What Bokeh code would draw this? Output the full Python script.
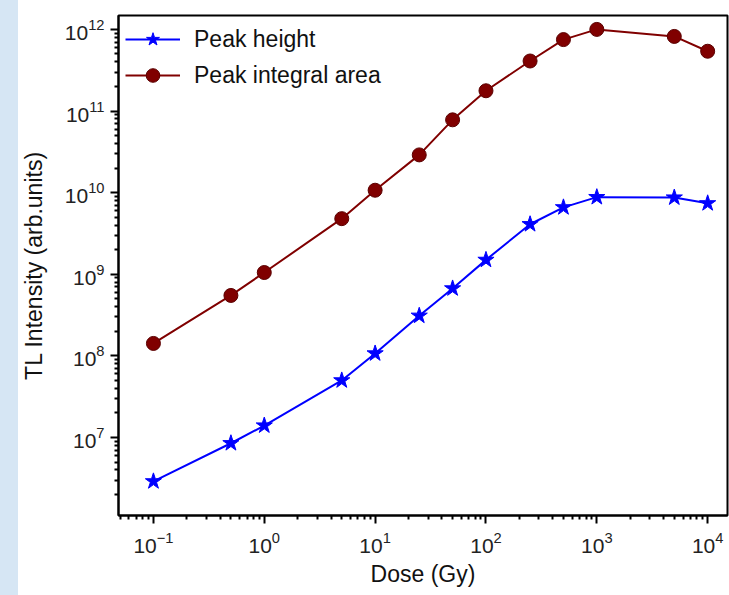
from bokeh.plotting import figure
from bokeh.models import Range1d, FixedTicker
from bokeh.embed import file_html
from bokeh.resources import INLINE

# ---- data ----
dose = [0.1, 0.5, 1, 5, 10, 25, 50, 100, 250, 500, 1000, 5000, 10000]
peak_height = [2.9e6, 8.5e6, 1.4e7, 5.0e7, 1.07e8, 3.1e8, 6.7e8, 1.5e9,
               4.1e9, 6.6e9, 8.8e9, 8.7e9, 7.4e9]
peak_area = [1.42e8, 5.5e8, 1.05e9, 4.8e9, 1.07e10, 2.9e10, 7.8e10, 1.77e11,
             4.1e11, 7.5e11, 1.0e12, 8.2e11, 5.4e11]

x_major_ticks = [0.1, 1, 10, 100, 1000, 10000]
y_major_ticks = [1e7, 1e8, 1e9, 1e10, 1e11, 1e12]

x_label = "Dose (Gy)"
y_label = "TL Intensity (arb.units)"
series_names = ["Peak height", "Peak integral area"]

FONT = "Liberation Sans"


def minors(lo_exp, hi_exp):
    out = []
    for e in range(lo_exp, hi_exp + 1):
        for m in range(2, 10):
            out.append(m * 10.0 ** e)
    return out


p = figure(width=729, height=595, x_axis_type="log", y_axis_type="log",
           output_backend="svg", toolbar_location=None,
           x_range=Range1d(0.0484, 15100), y_range=Range1d(1.107e6, 1.48e12),
           min_border_left=118, min_border_right=2, min_border_top=15,
           min_border_bottom=80)

p.background_fill_color = "white"
p.border_fill_color = None
p.styles = {"background": "linear-gradient(90deg, #d6e6f4 0px, #d6e6f4 18px, #ffffff 18px, #ffffff 100%)"}
p.outline_line_color = "black"
p.outline_line_width = 2
p.xgrid.visible = False
p.ygrid.visible = False

p.xaxis.ticker = FixedTicker(ticks=x_major_ticks, minor_ticks=minors(-2, 4))
p.yaxis.ticker = FixedTicker(ticks=y_major_ticks, minor_ticks=minors(6, 12))

for ax in (p.xaxis[0], p.yaxis[0]):
    ax.axis_line_width = 2
    ax.axis_line_color = "black"
    ax.major_tick_line_width = 2
    ax.minor_tick_line_width = 2
    ax.major_tick_out = 8
    ax.major_tick_in = 0
    ax.minor_tick_out = 4
    ax.minor_tick_in = 0
    ax.major_label_text_font = FONT
    ax.major_label_text_font_size = "21px"
    ax.major_label_text_color = "#222222"
    ax.axis_label_text_font = FONT
    ax.axis_label_text_font_size = "23px"
    ax.axis_label_text_font_style = "normal"
    ax.axis_label_text_color = "#111111"

p.xaxis.axis_label = x_label
p.yaxis.axis_label = y_label
p.xaxis.major_label_standoff = 8
p.xaxis.axis_label_standoff = 5
p.yaxis.major_label_standoff = 6
p.yaxis.axis_label_standoff = 15

blue = "#0000FF"
red = "#800000"

p.line(dose, peak_height, line_color=blue, line_width=2, legend_label=series_names[0])
p.scatter(dose, peak_height, marker="star", size=17, fill_color=blue,
          line_color=blue, legend_label=series_names[0])

p.line(dose, peak_area, line_color=red, line_width=2, legend_label=series_names[1])
p.scatter(dose, peak_area, marker="circle", size=14, fill_color=red,
          line_color="#5a0000", line_width=1, legend_label=series_names[1])

leg = p.legend[0]
leg.location = "top_left"
leg.border_line_color = None
leg.background_fill_alpha = 0
leg.label_text_font = FONT
leg.label_text_font_size = "23px"
leg.label_text_color = "#111111"
leg.glyph_width = 55
leg.glyph_height = 34
leg.label_standoff = 14
leg.spacing = 2
leg.margin = 7
leg.padding = 4

open("out.html", "w").write(file_html(p, INLINE))
